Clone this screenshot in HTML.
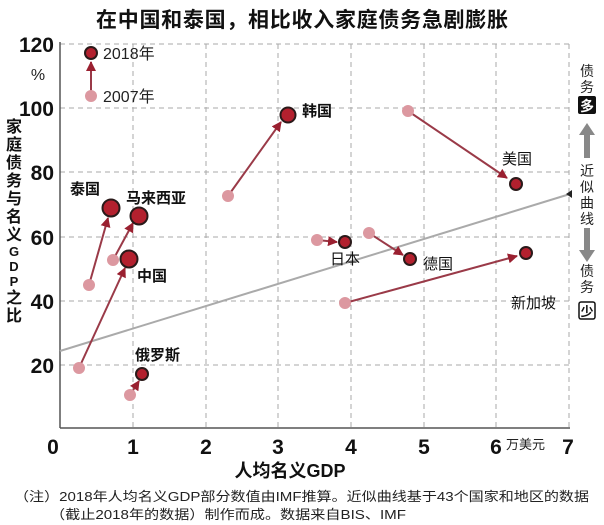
<!DOCTYPE html>
<html><head><meta charset="utf-8">
<style>
body{margin:0;background:#fff;}
svg{display:block;font-family:"Liberation Sans","Noto Sans CJK SC",sans-serif;}
</style></head><body>
<svg width="604" height="525" viewBox="0 0 604 525" xmlns="http://www.w3.org/2000/svg">
<defs>
<marker id="ah" viewBox="0 0 10 10" refX="9" refY="5" markerWidth="5" markerHeight="5" orient="auto"><path d="M0,0 L10,5 L0,10 z" fill="#9a2030"/></marker>
</defs>
<text x="302" y="27" text-anchor="middle" font-size="21" font-weight="bold" fill="#111" textLength="412">在中国和泰国，相比收入家庭债务急剧膨胀</text>
<g stroke="#aaa" stroke-width="1" stroke-dasharray="5,4" fill="none">
<line x1="60" y1="44" x2="570" y2="44"/>
<line x1="60" y1="108" x2="570" y2="108"/>
<line x1="60" y1="172" x2="570" y2="172"/>
<line x1="60" y1="237" x2="570" y2="237"/>
<line x1="60" y1="301" x2="570" y2="301"/>
<line x1="60" y1="365" x2="570" y2="365"/>
<line x1="133" y1="44" x2="133" y2="428"/>
<line x1="206" y1="44" x2="206" y2="428"/>
<line x1="278" y1="44" x2="278" y2="428"/>
<line x1="351" y1="44" x2="351" y2="428"/>
<line x1="424" y1="44" x2="424" y2="428"/>
<line x1="496" y1="44" x2="496" y2="428"/>
<line x1="569" y1="44" x2="569" y2="428"/>
</g>
<line x1="60" y1="42" x2="60" y2="428" stroke="#555" stroke-width="1.5"/>
<line x1="60" y1="428" x2="570" y2="428" stroke="#555" stroke-width="1.5"/>
<line x1="60" y1="351" x2="570" y2="194" stroke="#aaa" stroke-width="2"/>
<path d="M566,194 L572,190 L572,198 z" fill="#222"/>
<g font-size="21" font-weight="bold" fill="#111" text-anchor="end">
<text x="54" y="52">120</text><text x="54" y="116">100</text><text x="54" y="180">80</text>
<text x="54" y="245">60</text><text x="54" y="309">40</text><text x="54" y="373">20</text>
</g>
<text x="38" y="80" font-size="16" text-anchor="middle" fill="#222">%</text>
<g font-size="21" font-weight="bold" fill="#111" text-anchor="middle">
<text x="53" y="454">0</text><text x="133" y="454">1</text><text x="206" y="454">2</text><text x="278" y="454">3</text>
<text x="351" y="454">4</text><text x="424" y="454">5</text><text x="496" y="454">6</text><text x="568" y="454">7</text>
</g>
<text x="506" y="449" font-size="13" fill="#222">万美元</text>
<text x="290" y="477" font-size="18" font-weight="bold" text-anchor="middle" fill="#111">人均名义GDP</text>
<g font-size="16" font-weight="bold" fill="#111" text-anchor="middle">
<text x="14" y="132">家</text><text x="14" y="150">庭</text><text x="14" y="168">债</text><text x="14" y="186">务</text>
<text x="14" y="204">与</text><text x="14" y="222">名</text><text x="14" y="240">义</text>
<text x="14" y="256" font-size="13">G</text><text x="14" y="271" font-size="13">D</text><text x="14" y="286" font-size="13">P</text>
<text x="14" y="303">之</text><text x="14" y="321">比</text>
</g>
<g stroke="#9a3a48" stroke-width="2" marker-end="url(#ah)" fill="none">
<line x1="91" y1="93" x2="91" y2="62"/>
<line x1="79" y1="368" x2="125" y2="268"/>
<line x1="89" y1="285" x2="108" y2="218"/>
<line x1="113" y1="260" x2="133" y2="223"/>
<line x1="228" y1="196" x2="281" y2="122"/>
<line x1="130" y1="395" x2="139" y2="381"/>
<line x1="408" y1="111" x2="507" y2="178"/>
<line x1="317" y1="240" x2="337" y2="242"/>
<line x1="369" y1="233" x2="403" y2="255"/>
<line x1="345" y1="303" x2="517" y2="256"/>
</g>
<g fill="#dc98a0">
<circle cx="91" cy="96" r="6"/><circle cx="79" cy="368" r="6"/><circle cx="89" cy="285" r="6"/>
<circle cx="113" cy="260" r="6"/><circle cx="228" cy="196" r="6"/><circle cx="130" cy="395" r="6"/>
<circle cx="408" cy="111" r="6"/><circle cx="317" cy="240" r="6"/><circle cx="369" cy="233" r="6"/>
<circle cx="345" cy="303" r="6"/>
</g>
<g fill="#b3202e" stroke="#2a1a1a" stroke-width="2">
<circle cx="91" cy="53" r="6"/>
<circle cx="111" cy="208" r="8.5"/><circle cx="139" cy="216" r="8.5"/><circle cx="129" cy="259" r="8.5"/>
<circle cx="288" cy="115" r="7.5"/><circle cx="142" cy="374" r="6"/><circle cx="516" cy="184" r="6"/>
<circle cx="345" cy="242" r="6"/><circle cx="410" cy="259" r="6"/><circle cx="526" cy="253" r="6"/>
</g>
<g font-size="16" fill="#222">
<text x="103" y="59">2018年</text><text x="103" y="102">2007年</text>
</g>
<g font-size="15" fill="#111">
<text x="70" y="194" font-weight="bold">泰国</text>
<text x="126" y="203" font-weight="bold">马来西亚</text>
<text x="137" y="281" font-weight="bold">中国</text>
<text x="135" y="360" font-weight="bold">俄罗斯</text>
<text x="302" y="116" font-weight="bold">韩国</text>
<text x="502" y="164">美国</text>
<text x="330" y="264">日本</text>
<text x="423" y="269">德国</text>
<text x="511" y="308">新加坡</text>
</g>
<g font-size="14" fill="#222" text-anchor="middle">
<text x="587" y="76">债</text><text x="587" y="92">务</text>
<text x="587" y="176">近</text><text x="587" y="192">似</text><text x="587" y="208">曲</text><text x="587" y="224">线</text>
<text x="587" y="276">债</text><text x="587" y="292">务</text>
</g>
<rect x="578" y="96" width="18" height="18" fill="#111" rx="2"/>
<text x="587" y="111" font-size="14" font-weight="bold" fill="#fff" text-anchor="middle">多</text>
<rect x="579" y="302" width="16" height="17" fill="#fff" stroke="#111" stroke-width="1.5" rx="2"/>
<text x="587" y="316" font-size="13" font-weight="bold" fill="#111" text-anchor="middle">少</text>
<path d="M587,123 L595,135 L590,135 L590,158 L584,158 L584,135 L579,135 z" fill="#888"/>
<path d="M587,262 L595,250 L590,250 L590,228 L584,228 L584,250 L579,250 z" fill="#888"/>
<g font-size="13" fill="#222">
<text x="14" y="501" textLength="575" lengthAdjust="spacingAndGlyphs">（注）2018年人均名义GDP部分数值由IMF推算。近似曲线基于43个国家和地区的数据</text>
<text x="50" y="519" textLength="356" lengthAdjust="spacingAndGlyphs">（截止2018年的数据）制作而成。数据来自BIS、IMF</text>
</g>
</svg>
</body></html>
